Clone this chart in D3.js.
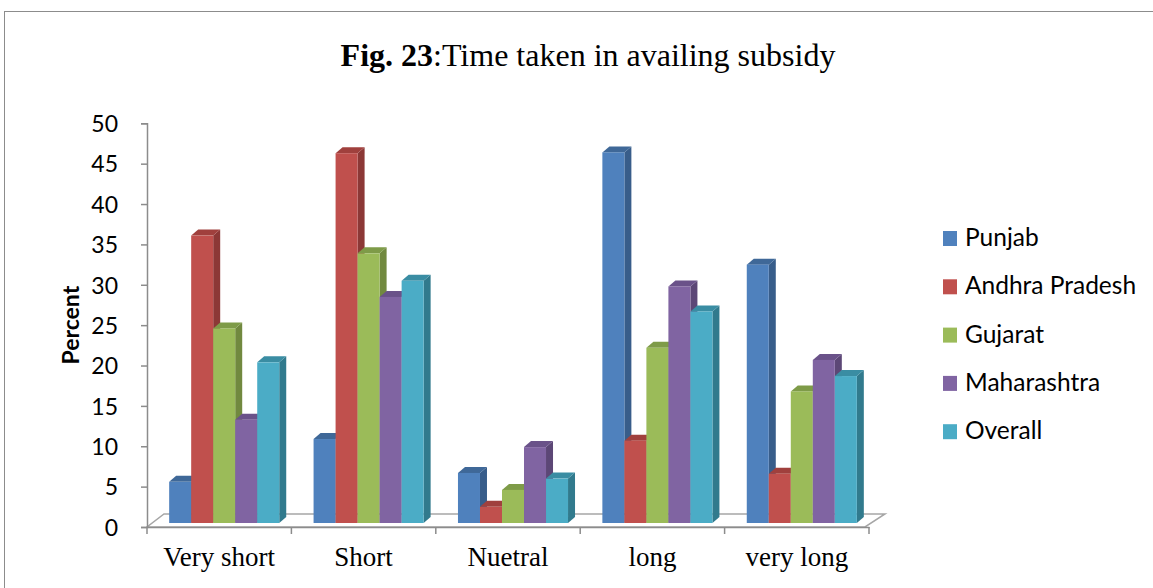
<!DOCTYPE html>
<html>
<head>
<meta charset="utf-8">
<script src="https://cdn.jsdelivr.net/npm/d3@7"></script>
<style>
  body { margin: 0; background: #fff; }
  svg { display: block; }
</style>
</head>
<body>
<div id="container"></div>
<script>
// data
const categories = ["Very short", "Short", "Nuetral", "long", "very long"];
const series = ["Punjab", "Andhra Pradesh", "Gujarat", "Maharashtra", "Overall"];
const punjab = [5.1, 10.4, 6.2, 45.9, 32.0];
const andhra = [35.6, 45.8, 2.0, 10.2, 6.1];
const gujarat = [24.1, 33.4, 4.1, 21.7, 16.3];
const maharashtra = [12.8, 28.0, 9.4, 29.3, 20.2];
const overall = [19.9, 30.0, 5.5, 26.2, 18.2];
const yTicks = [0, 5, 10, 15, 20, 25, 30, 35, 40, 45, 50];

const values = [punjab, andhra, gujarat, maharashtra, overall];
const colors = ["#4f81bd", "#c0504d", "#9bbb59", "#8064a2", "#4bacc6"];
const sideColors = ["#385d8a", "#8c3836", "#71893f", "#5c4776", "#317a8d"];
const topColors = ["#3f6898", "#a0403d", "#7e9b48", "#6a5289", "#3a8da3"];

const w = 1153, h = 588;
const sans = "Lato, 'Open Sans', sans-serif";
const serif = "'Liberation Serif', 'Times New Roman', serif";

const svg = d3.select("#container").append("svg")
  .attr("width", w).attr("height", h);

// frame
svg.append("rect")
  .attr("x", 4.5).attr("y", 11.5)
  .attr("width", 1170).attr("height", 600)
  .attr("fill", "none").attr("stroke", "#8c8c8c").attr("stroke-width", 1);

// title
const title = svg.append("text")
  .attr("x", 588).attr("y", 66)
  .attr("text-anchor", "middle")
  .attr("font-family", serif)
  .attr("font-size", 32)
  .attr("fill", "#000");
title.append("tspan").attr("font-weight", "bold").text("Fig. 23");
title.append("tspan").text(":Time taken in availing subsidy");

// scales
const plotLeft = 147, plotRight = 869, plotBottom = 527, plotTop = 123.3;
const x = d3.scaleBand().domain(categories).range([plotLeft, plotRight]);
const xi = d3.scaleBand().domain(series).range([0, x.bandwidth()])
  .paddingInner(0).paddingOuter(0.78);
const y = d3.scaleLinear().domain([0, 50]).range([plotBottom, plotTop]);

// 3d depth of the floor and of the bars
const floorDx = 17, floorDy = -13;
const barShiftX = 5, barShiftY = -4;
const barDx = 7, barDy = -6;

// floor
svg.append("polygon")
  .attr("points", [[plotLeft, plotBottom], [plotRight - 4, plotBottom],
    [plotRight - 4 + floorDx + 3, plotBottom + floorDy], [plotLeft + floorDx, plotBottom + floorDy]].join(" "))
  .attr("fill", "#fff").attr("stroke", "#a6a6a6").attr("stroke-width", 1.5);

// y axis
const yAxis = d3.axisLeft(y).tickValues(yTicks).tickSize(6).tickPadding(23);
const gy = svg.append("g").attr("transform", `translate(${plotLeft},0)`).call(yAxis);
gy.select(".domain").attr("stroke", "#8c8c8c").attr("stroke-width", 1.5);
gy.selectAll(".tick line").attr("stroke", "#8c8c8c").attr("stroke-width", 1.5);
gy.selectAll(".tick text")
  .attr("font-family", sans)
  .attr("font-size", 23).attr("fill", "#000")
  .attr("dy", "0.36em");

// y title
svg.append("text")
  .attr("transform", `translate(79,${(plotTop + plotBottom) / 2}) rotate(-90)`)
  .attr("text-anchor", "middle")
  .attr("font-family", sans)
  .attr("font-weight", "bold")
  .attr("font-size", 23)
  .text("Percent");

// x axis
const xAxis = d3.axisBottom(x).tickSize(0).tickPadding(24);
const gx = svg.append("g").attr("transform", `translate(0,${plotBottom})`).call(xAxis);
gx.select(".domain").attr("stroke", "#8c8c8c").attr("stroke-width", 1.5);
gx.selectAll(".tick text")
  .attr("font-family", serif)
  .attr("font-size", 27).attr("fill", "#000")
  .attr("dy", "0.55em");
// category separators
gx.selectAll(".sep")
  .data(d3.range(categories.length + 1))
  .enter().append("line")
  .attr("x1", i => plotLeft + i * x.step()).attr("x2", i => plotLeft + i * x.step())
  .attr("y1", 0).attr("y2", 7)
  .attr("stroke", "#8c8c8c").attr("stroke-width", 1.5);

// bars
const bars = [];
categories.forEach((c, ci) => {
  series.forEach((s, si) => {
    bars.push({ c, s, si, v: values[si][ci] });
  });
});

const g = svg.append("g").attr("transform", `translate(${barShiftX},${barShiftY})`);
const bw = xi.bandwidth();
const bar = g.selectAll("g.bar").data(bars).enter().append("g").attr("class", "bar");

bar.append("polygon")
  .attr("points", d => {
    const x0 = x(d.c) + xi(d.s) + bw, y0 = y(d.v), y1 = y(0);
    return [[x0, y0], [x0 + barDx, y0 + barDy], [x0 + barDx, y1 + barDy], [x0, y1]].join(" ");
  })
  .attr("fill", d => sideColors[d.si]);

bar.append("polygon")
  .attr("points", d => {
    const x0 = x(d.c) + xi(d.s), y0 = y(d.v);
    return [[x0, y0], [x0 + barDx, y0 + barDy], [x0 + bw + barDx, y0 + barDy], [x0 + bw, y0]].join(" ");
  })
  .attr("fill", d => topColors[d.si]);

bar.append("rect")
  .attr("x", d => x(d.c) + xi(d.s))
  .attr("y", d => y(d.v))
  .attr("width", bw)
  .attr("height", d => y(0) - y(d.v))
  .attr("fill", d => colors[d.si]);

// legend
const legend = svg.append("g").attr("transform", "translate(943,0)");
const item = legend.selectAll("g").data(series).enter().append("g")
  .attr("transform", (d, i) => `translate(0,${237 + i * 48.3})`);
item.append("rect")
  .attr("x", 0).attr("y", -6).attr("width", 14).attr("height", 15)
  .attr("fill", (d, i) => colors[i]);
item.append("text")
  .attr("x", 22).attr("y", 9)
  .attr("font-family", sans)
  .attr("font-size", 24.5)
  .text(d => d);
</script>
</body>
</html>
